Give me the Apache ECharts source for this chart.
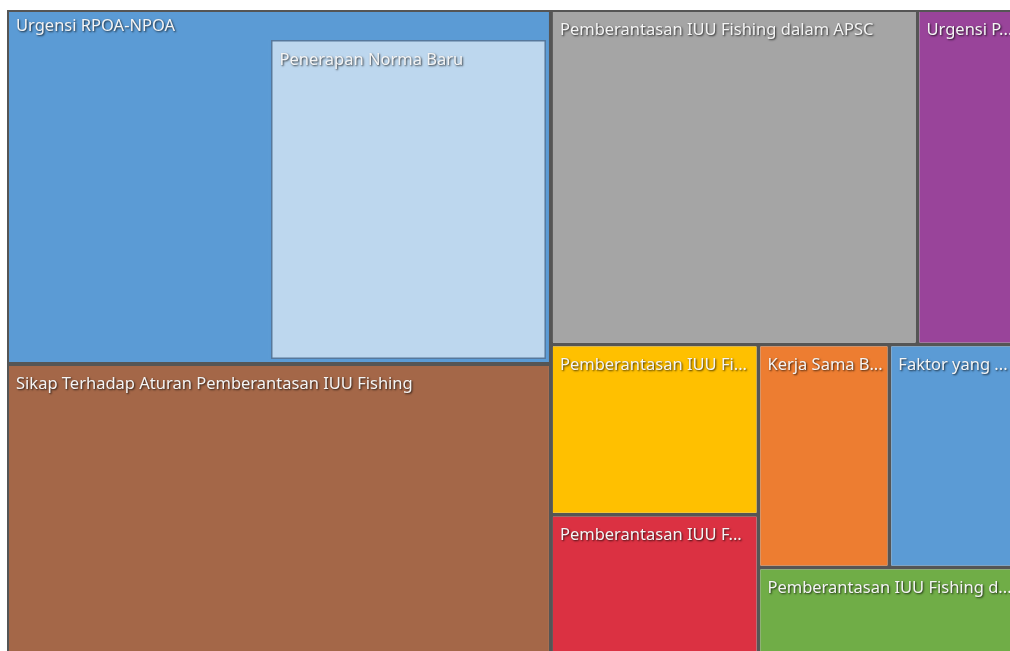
<!DOCTYPE html>
<html>
<head>
<meta charset="utf-8">
<script src="https://cdn.jsdelivr.net/npm/echarts@6/dist/echarts.min.js"></script>
<style>
html, body { margin: 0; padding: 0; background: #fff; }
#chart { width: 1010px; height: 651px; }
</style>
</head>
<body>
<div id="chart"></div>
<script>
// top level nodes, in layout order (values read as cell areas, thousands of px)
var nodeNames = [
	'Urgensi RPOA-NPOA',
	'Sikap Terhadap Aturan Pemberantasan IUU Fishing',
	'Pemberantasan IUU Fishing dalam APSC',
	'Urgensi P...',
	'Pemberantasan IUU Fi...',
	'Pemberantasan IUU F...',
	'Kerja Sama B...',
	'Faktor yang ...',
	'Pemberantasan IUU Fishing d...'
];
var nodeValues = [null, 163.7, 122.6, 35.3, 35.3, 31.2, 29.2, 29.8, 25.8];
var nodeColors = ['#5b9bd5', '#a46748', '#a5a5a5', '#99449a', '#ffc000', '#db3142', '#ed7d31', '#5b9bd5', '#70ad47'];

// children of "Urgensi RPOA-NPOA": its own references + sub node
var childNames = ['Urgensi RPOA-NPOA', 'Penerapan Norma Baru'];
var childValues = [93.07, 99.53];

var textStyle = {
	color: '#f4f4f4',
	fontFamily: 'Noto Sans',
	fontSize: 16.5,
	textShadowColor: 'rgba(0,0,0,0.75)',
	textShadowBlur: 2,
	textShadowOffsetX: 1,
	textShadowOffsetY: 1
};

function buildData() {
	var data = [];
	for (var i = 0; i < nodeNames.length; i++) {
		var item = {
			name : nodeNames[i],
			itemStyle : { color: nodeColors[i], borderWidth: 0 }
		};
		if (i == 0) {
			//parent with children
			item.itemStyle = { color: nodeColors[i], borderColor: nodeColors[i], borderWidth: 3, gapWidth: 2 };
			item.children = [
				{
					name : childNames[0],
					value : childValues[0],
					itemStyle : { color: nodeColors[0], borderWidth: 0 },
					label : { show: false }
				},
				{
					name : childNames[1],
					value : childValues[1],
					itemStyle : { color: '#bdd7ee', borderColor: '#56789c', borderWidth: 1.5 }
				}
			];
		} else {
			item.value = nodeValues[i];
		}
		data.push(item);
	}
	return data;
}

var myChart = echarts.init(document.getElementById('chart'));
var options = {
	animation : false,
	series : [
		{
			type : 'treemap',
			left : 7,
			top : 10,
			width : 1016,
			height : 655,
			sort : false,
			roam : false,
			nodeClick : false,
			breadcrumb : { show: false },
			label : Object.assign({
				show : true,
				position : 'insideTopLeft',
				padding : [10, 4, 0, 7],
				overflow : 'none'
			}, textStyle),
			upperLabel : Object.assign({
				show : true,
				height : 28,
				padding : [5, 4, 0, 4],
				overflow : 'none'
			}, textStyle),
			levels : [
				{
					itemStyle : { borderWidth: 2, borderColor: '#555555', gapWidth: 4 },
					upperLabel : { show: false }
				},
				{
					itemStyle : { borderWidth: 0, gapWidth: 2 }
				}
			],
			data : buildData()
		}
	]
};
myChart.setOption(options);
</script>
</body>
</html>
